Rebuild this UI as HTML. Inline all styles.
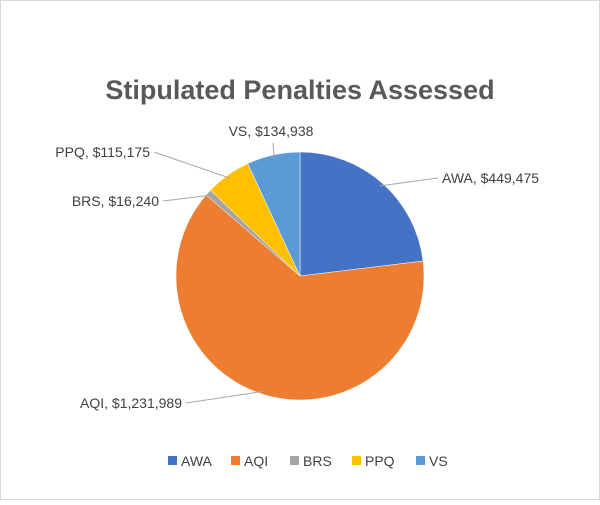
<!DOCTYPE html>
<html><head><meta charset="utf-8"><style>
body{margin:0;background:#fff;}
svg text{font-family:"Liberation Sans",sans-serif;}
</style></head><body>
<svg width="600" height="500" viewBox="0 0 600 500">
<rect x="0.5" y="0.5" width="599" height="499" fill="#fff" stroke="#d9d9d9"/>
<text x="300" y="99" text-anchor="middle" font-size="27" font-weight="bold" fill="#595959">Stipulated Penalties Assessed</text>
<g id="slices"></g>
<g id="labels"></g>
<g id="legend"></g>
</svg>
<script>
const categories=["AWA","AQI","BRS","PPQ","VS"];
const values=[449475,1231989,16240,115175,134938];
const valueLabels=["$449,475","$1,231,989","$16,240","$115,175","$134,938"];
const colors=["#4472c4","#ed7d31","#a5a5a5","#ffc000","#5b9bd5"];
const NS="http://www.w3.org/2000/svg";
const cx=300,cy=276,r=124;
// leader line end points (layout only)
const lineEnds=[[438,178],[186,403],[163,201],[154,152],[273,143]];
const total=values.reduce((a,b)=>a+b,0);
const sg=document.getElementById('slices'),lg=document.getElementById('labels'),leg=document.getElementById('legend');
function pt(a,rr){return [cx+rr*Math.sin(a),cy-rr*Math.cos(a)];}
let acc=0;
values.forEach((v,i)=>{
  const a0=acc/total*2*Math.PI;acc+=v;const a1=acc/total*2*Math.PI;
  const p0=pt(a0,r),p1=pt(a1,r);
  const path=document.createElementNS(NS,'path');
  path.setAttribute('d',`M${cx},${cy}L${p0[0]},${p0[1]}A${r},${r} 0 ${a1-a0>Math.PI?1:0} 1 ${p1[0]},${p1[1]}Z`);
  path.setAttribute('fill',colors[i]);
  path.setAttribute('stroke','#fff');path.setAttribute('stroke-width','0.5');
  
  
  sg.appendChild(path);
  const am=(a0+a1)/2;
  const e=pt(am,r*0.97);
  const top=Math.cos(am)>0.95;
  const right=Math.sin(am)>=0;
  const [lx,ly]=lineEnds[i];
  let tx,ty,anchor;
  if(top){tx=lx-2;ty=ly-7;anchor='middle';}
  else{tx=right?lx+4:lx-4;ty=ly+5;anchor=right?'start':'end';}
  const line=document.createElementNS(NS,'path');
  line.setAttribute('d',`M${e[0]},${e[1]}L${lx},${ly}`);
  line.setAttribute('stroke','#a6a6a6');line.setAttribute('fill','none');
  
  
  lg.appendChild(line);
  const t=document.createElementNS(NS,'text');
  t.setAttribute('x',tx);t.setAttribute('y',ty);t.setAttribute('text-anchor',anchor);
  t.setAttribute('font-size','14');t.setAttribute('fill','#404040');
  t.textContent=categories[i]+', '+valueLabels[i];
  
  
  lg.appendChild(t);
});
const legX=[168,231,290,352,416];
categories.forEach((c,i)=>{
  const g=document.createElementNS(NS,'g');
  
  
  const rc=document.createElementNS(NS,'rect');
  rc.setAttribute('x',legX[i]);rc.setAttribute('y',456);rc.setAttribute('width',9);rc.setAttribute('height',9);rc.setAttribute('fill',colors[i]);
  g.appendChild(rc);
  const t=document.createElementNS(NS,'text');
  t.setAttribute('x',legX[i]+13);t.setAttribute('y',466);t.setAttribute('font-size','14');t.setAttribute('fill','#404040');
  t.textContent=c;g.appendChild(t);
  leg.appendChild(g);
});
</script>
</body></html>
